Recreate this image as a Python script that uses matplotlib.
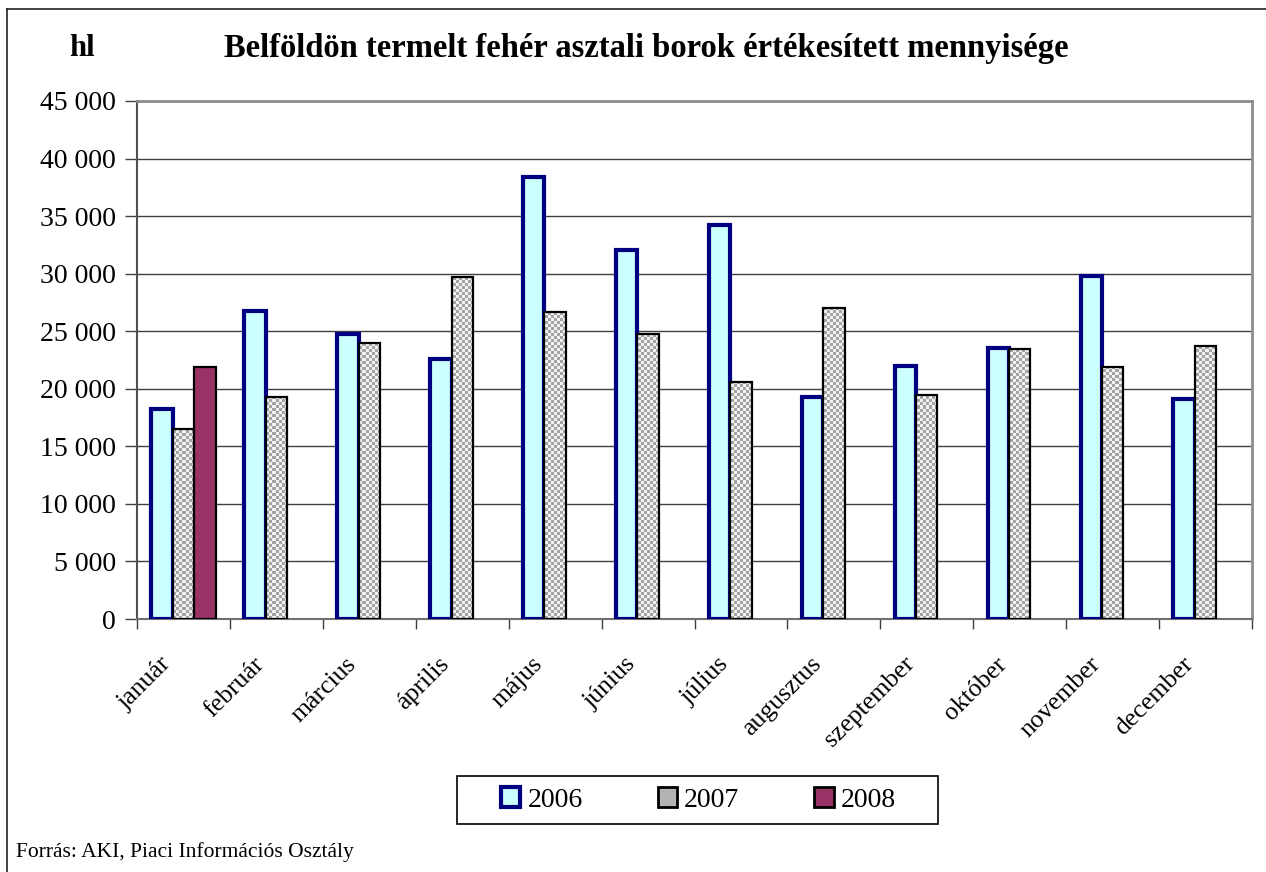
import numpy as np
import matplotlib
matplotlib.use("Agg")
import matplotlib.pyplot as plt
from matplotlib.patches import Patch, Rectangle
from matplotlib.lines import Line2D
from matplotlib.ticker import FuncFormatter, FixedLocator
from matplotlib.colors import ListedColormap
from matplotlib.transforms import ScaledTranslation

months = ["január", "február", "március", "április", "május", "június",
          "július", "augusztus", "szeptember", "október", "november", "december"]
v2006 = [18200, 26800, 24750, 22600, 38400, 32050, 34200, 19300, 22000, 23500, 29800, 19100]
v2007 = [16500, 19300, 23950, 29700, 26700, 24750, 20600, 27000, 19500, 23450, 21900, 23700]
v2008 = [21850]
series_labels = ["2006", "2007", "2008"]
title = "Belföldön termelt fehér asztali borok értékesített mennyisége"
unit = "hl"
source = "Forrás: AKI, Piaci Információs Osztály"

plt.rcParams['font.family'] = ['Liberation Serif', 'DejaVu Serif']

W, H = 1266, 872
fig = plt.figure(figsize=(W / 100, H / 100), dpi=100)
ax_l, ax_r, ax_t, ax_b = 137, 1252, 101, 619
ax = fig.add_axes([ax_l / W, (H - ax_b) / H, (ax_r - ax_l) / W, (ax_b - ax_t) / H])

x = np.arange(len(months))
bw = 0.23
ymax = 45000

ax.bar(x - bw, v2006, bw, facecolor='#CCFFFF', edgecolor='#000080', linewidth=3.0, zorder=3)
b07 = ax.bar(x, v2007, bw, facecolor='#F2F2F2', edgecolor='none', linewidth=0, zorder=4)
# checker texture clipped to each 2007 bar
cell = 3
nx = int(np.ceil((ax_r - ax_l) / cell)) + 1
ny = int(np.ceil((ax_b - ax_t) / cell)) + 1
ii, jj = np.indices((ny, nx))
tex = ((ii + jj) % 2).astype(float)
cmap = ListedColormap(['#A4A4A4', '#F2F2F2'])
x0 = -0.5
xr = nx * cell * (len(months)) / (ax_r - ax_l)
yr = ny * cell * ymax / (ax_b - ax_t)
for bar in b07:
    im = ax.imshow(tex, cmap=cmap, interpolation='nearest', origin='lower',
                   extent=(x0, x0 + xr, 0, yr), aspect='auto', zorder=4.5)
    im.set_clip_path(bar)
ax.bar(x, v2007, bw, fill=False, edgecolor='black', linewidth=1.6, zorder=5)
ax.bar(x[:len(v2008)] + bw, v2008, bw, facecolor='#993366', edgecolor='black', linewidth=1.6, zorder=5)
ax.set_xlim(-0.5, len(months) - 0.5)
ax.set_ylim(0, ymax)

# grid / y axis
ax.set_yticks(np.arange(0, ymax + 1, 5000))
ax.yaxis.set_major_formatter(FuncFormatter(lambda v, p: f"{int(v):,}".replace(",", " ")))
ax.yaxis.grid(True, color='#404040', linewidth=1.0, zorder=0)
ax.set_axisbelow(True)
ax.tick_params(axis='y', direction='out', length=9, width=1, color='#404040',
               labelsize=20, pad=6)

# x axis
ax.xaxis.set_major_locator(FixedLocator(np.arange(-0.5, len(months), 1.0)))
ax.xaxis.set_major_formatter(FuncFormatter(lambda v, p: ""))
ax.xaxis.set_minor_locator(FixedLocator(x))
ax.set_xticklabels(months, minor=True, rotation=45, ha='right', va='center',
                   rotation_mode='anchor', fontsize=18.5)
ax.tick_params(axis='x', which='major', direction='out', length=7, width=1, color='#404040')
ax.tick_params(axis='x', which='minor', length=0, pad=30)
for lab in ax.get_xticklabels(minor=True):
    lab.set_transform(lab.get_transform() + ScaledTranslation(-16 / 100, 0, fig.dpi_scale_trans))

for s in ['top', 'right']:
    ax.spines[s].set_color('#8C8C8C')
    ax.spines[s].set_linewidth(2)
ax.spines['left'].set_color('#505050')
ax.spines['left'].set_linewidth(1.5)
ax.spines['bottom'].set_color('#707070')
ax.spines['bottom'].set_linewidth(1.5)

# titles
fig.text(646 / W, 1 - 48 / H, title, ha='center', va='center', fontsize=23.5, fontweight='bold')
fig.text(82 / W, 1 - 48 / H, unit, ha='center', va='center', fontsize=22, fontweight='bold')
fig.text(16 / W, 1 - 852 / H, source, ha='left', va='center', fontsize=15.5)

# legend
handles = [Patch(facecolor='#CCFFFF', edgecolor='#000080', linewidth=3),
           Patch(facecolor='#B4B4B4', edgecolor='black', linewidth=2),
           Patch(facecolor='#993366', edgecolor='black', linewidth=2)]
lx0, lx1, ly0, ly1 = 457, 938, 776, 824
fig.add_artist(Rectangle((lx0 / W, 1 - ly1 / H), (lx1 - lx0) / W, (ly1 - ly0) / H,
                         transform=fig.transFigure, facecolor='white', edgecolor='black',
                         linewidth=1.2, zorder=1))
leg = fig.legend(handles, series_labels, loc='center',
                 bbox_to_anchor=(501 / W, 1 - ly1 / H, 395 / W, (ly1 - ly0) / H),
                 bbox_transform=fig.transFigure, mode='expand', ncol=3, frameon=False,
                 borderaxespad=0, borderpad=0, handlelength=0.7, handleheight=0.7,
                 handletextpad=0.25, fontsize=20)
leg.set_zorder(2)

# figure border (top and left)
fig.add_artist(Line2D([7 / W, 7 / W], [0, 1 - 9 / H], transform=fig.transFigure,
                      color='#222222', linewidth=1.2))
fig.add_artist(Line2D([7 / W, 1], [1 - 9 / H, 1 - 9 / H], transform=fig.transFigure,
                      color='#222222', linewidth=1.2))

fig.savefig("out.png", dpi=100)
